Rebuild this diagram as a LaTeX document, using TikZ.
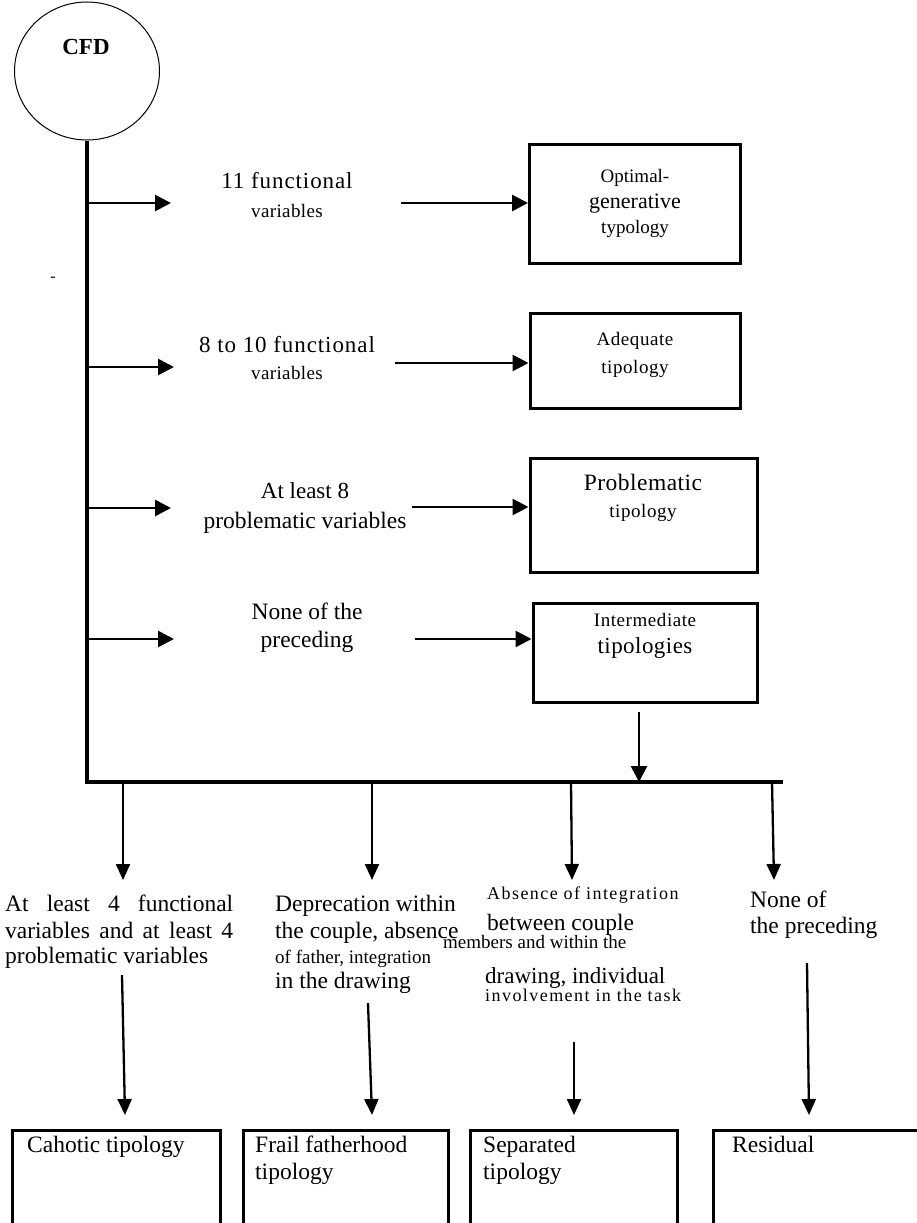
\documentclass[tikz,border=0pt]{standalone}
\usepackage{fontspec}
\setmainfont{Liberation Serif}
\usetikzlibrary{arrows.meta,shapes.geometric}
\newcommand\fsz[1]{\fontsize{#1}{#1}\selectfont}
\tikzset{
  box/.style={draw, line width=3pt, rectangle, inner sep=0pt},
  arr/.style={line width=2.8pt, -{Triangle[length=16pt,width=16pt]}},
  arrb/.style={line width=2.3pt, -{Triangle[length=16pt,width=14pt]}},
  trunk/.style={line width=3.2pt},
  tc/.style={inner sep=0pt, anchor=base},
  tl/.style={inner sep=0pt, anchor=base west}
}
\begin{document}
\begin{tikzpicture}[x=1pt,y=-1pt]
\useasboundingbox (0,0) rectangle (917,1223);
\clip (0,0) rectangle (917,1223);
\fill[white] (0,0) rectangle (917,1223);

% start ellipse
\node[draw, ellipse, line width=1pt, minimum width=145pt, minimum height=138pt, inner sep=0pt] (cfd) at (87,71) {};
\node[tc, font=\fsz{23}\bfseries] (cfdt) at (86,55) {CFD};
\node[tc, font=\fsz{16}] (dash) at (53,281) {-};

% trunk
\coordinate (corner) at (87,782);
\coordinate (barend) at (783,782);
\draw[trunk] (cfd.south) -- (corner) -- (barend);

% boxes on the right
\node[box, minimum width=211pt, minimum height=119pt] (b1) at (635,203.5) {};
\node[box, minimum width=210pt, minimum height=95pt] (b2) at (635,360.5) {};
\node[box, minimum width=227pt, minimum height=114pt] (b3) at (643.5,515) {};
\node[box, minimum width=224pt, minimum height=99pt] (b4) at (645,652.5) {};

% branch arrows from trunk
\coordinate (j1) at (87,203);
\coordinate (j2) at (87,367);
\coordinate (j3) at (87,508);
\coordinate (j4) at (87,639);
\draw[arr] (j1) -- ++(84,0);
\draw[arr] (j2) -- ++(87,0);
\draw[arr] (j3) -- ++(84,0);
\draw[arr] (j4) -- ++(87,0);

% labels
\node[tc, font=\fsz{23}\addfontfeature{LetterSpace=4}] (n1a) at (287,188) {11 functional};
\node[tc, font=\fsz{19}\addfontfeature{LetterSpace=2}] (n1b) at (287,217) {variables};
\node[tc, font=\fsz{23}\addfontfeature{LetterSpace=4}] (n2a) at (287,352) {8 to 10 functional};
\node[tc, font=\fsz{19}\addfontfeature{LetterSpace=2}] (n2b) at (287,379) {variables};
\node[tc, font=\fsz{23}] (n3a) at (305,498) {At least 8};
\node[tc, font=\fsz{23.5}] (n3b) at (305,528) {problematic variables};
\node[tc, font=\fsz{23.5}] (n4a) at (307,619) {None of the};
\node[tc, font=\fsz{23.5}] (n4b) at (307,647) {preceding};

% label -> box arrows
\coordinate (s1) at (401,203);
\coordinate (s2) at (395,363);
\coordinate (s3) at (412,507);
\coordinate (s4) at (415,639);
\draw[arr] (s1) -- (s1 -| b1.west);
\draw[arr] (s2) -- (s2 -| b2.west);
\draw[arr] (s3) -- (s3 -| b3.west);
\draw[arr] (s4) -- (s4 -| b4.west);

% box texts
\node[tc, font=\fsz{19}] (o1) at (635,182) {Optimal-};
\node[tc, font=\fsz{22}] (o2) at (635,208) {generative};
\node[tc, font=\fsz{19}] (o3) at (635,233) {typology};
\node[tc, font=\fsz{19}\addfontfeature{LetterSpace=3}] (a1) at (635,345) {Adequate};
\node[tc, font=\fsz{19}\addfontfeature{LetterSpace=3}] (a2) at (635,373) {tipology};
\node[tc, font=\fsz{23.5}\addfontfeature{LetterSpace=2}] (p1) at (643,490) {Problematic};
\node[tc, font=\fsz{19}\addfontfeature{LetterSpace=3}] (p2) at (643,517) {tipology};
\node[tc, font=\fsz{19}\addfontfeature{LetterSpace=3}] (i1) at (645,626) {Intermediate};
\node[tc, font=\fsz{23}\addfontfeature{LetterSpace=2}] (i2) at (645,653) {tipologies};

% box4 -> bar
\coordinate (k) at (639,712);
\draw[arr] (k) -- (k |- corner);

% down arrows from bar
\coordinate (d1) at (123,782); \coordinate (f1) at (123,880);
\coordinate (d2) at (372,782); \coordinate (f2) at (372,880);
\coordinate (d3) at (571,782); \coordinate (f3) at (572,880);
\coordinate (d4) at (772,782); \coordinate (f4) at (774,880);
\draw[arrb] (d1) -- (f1);
\draw[arrb] (d2) -- (f2);
\draw[arrb] (d3) -- (f3);
\draw[arrb] (d4) -- (f4);

% bottom labels
\node[tl, font=\fsz{23.5}] (c1a) at (5,911) {\makebox[228pt][s]{At least 4 functional}};
\node[tl, font=\fsz{23.5}] (c1b) at (5,938) {\makebox[228pt][s]{variables and at least 4}};
\node[tl, font=\fsz{23.5}] (c1c) at (5,963) {problematic variables};

\node[tl, font=\fsz{23.5}] (c2a) at (275,911) {Deprecation within};
\node[tl, font=\fsz{23.5}] (c2b) at (275,938) {the couple, absence};
\node[tl, font=\fsz{19}] (c2c) at (275,963) {of father, integration};
\node[tl, font=\fsz{23.5}] (c2d) at (275,988) {in the drawing};

\node[tl, font=\fsz{18}\addfontfeature{LetterSpace=8}] (c3a) at (487,899) {Absence of integration};
\node[tl, font=\fsz{23.5}] (c3b) at (487,930) {between couple};
\node[tl, font=\fsz{19}] (c3c) at (443,948) {members and within the};
\node[tl, font=\fsz{23}] (c3d) at (485,983) {drawing, individual};
\node[tl, font=\fsz{18}\addfontfeature{LetterSpace=8}] (c3e) at (485,1001) {involvement in the task};

\node[tl, font=\fsz{23.5}] (c4a) at (750,907) {None of};
\node[tl, font=\fsz{23.5}] (c4b) at (750,933) {the preceding};

% second row arrows
\coordinate (g1) at (122,975);  \coordinate (h1) at (125,1115);
\coordinate (g2) at (368,1003); \coordinate (h2) at (372,1115);
\coordinate (g3) at (574,1042); \coordinate (h3) at (574,1115);
\coordinate (g4) at (807,963);  \coordinate (h4) at (809,1115);
\draw[arrb] (g1) -- (h1);
\draw[arrb] (g2) -- (h2);
\draw[arrb] (g3) -- (h3);
\draw[arrb] (g4) -- (h4);

% bottom boxes (cut by the lower edge)
\node[box, minimum width=208pt, minimum height=140pt] (bA) at (116,1200) {};
\node[box, minimum width=205pt, minimum height=140pt] (bB) at (345.5,1200) {};
\node[box, minimum width=207pt, minimum height=140pt] (bC) at (573.5,1200) {};
\node[box, minimum width=222pt, minimum height=140pt] (bD) at (824,1200) {};

\node[tl, font=\fsz{23.5}] (tA) at (27,1152) {Cahotic tipology};
\node[tl, font=\fsz{23.5}] (tB1) at (255,1152) {Frail fatherhood};
\node[tl, font=\fsz{23.5}] (tB2) at (255,1179) {tipology};
\node[tl, font=\fsz{23.5}] (tC1) at (483,1152) {Separated};
\node[tl, font=\fsz{23.5}] (tC2) at (483,1179) {tipology};
\node[tl, font=\fsz{23.5}] (tD) at (732,1152) {Residual};
\end{tikzpicture}
\end{document}
